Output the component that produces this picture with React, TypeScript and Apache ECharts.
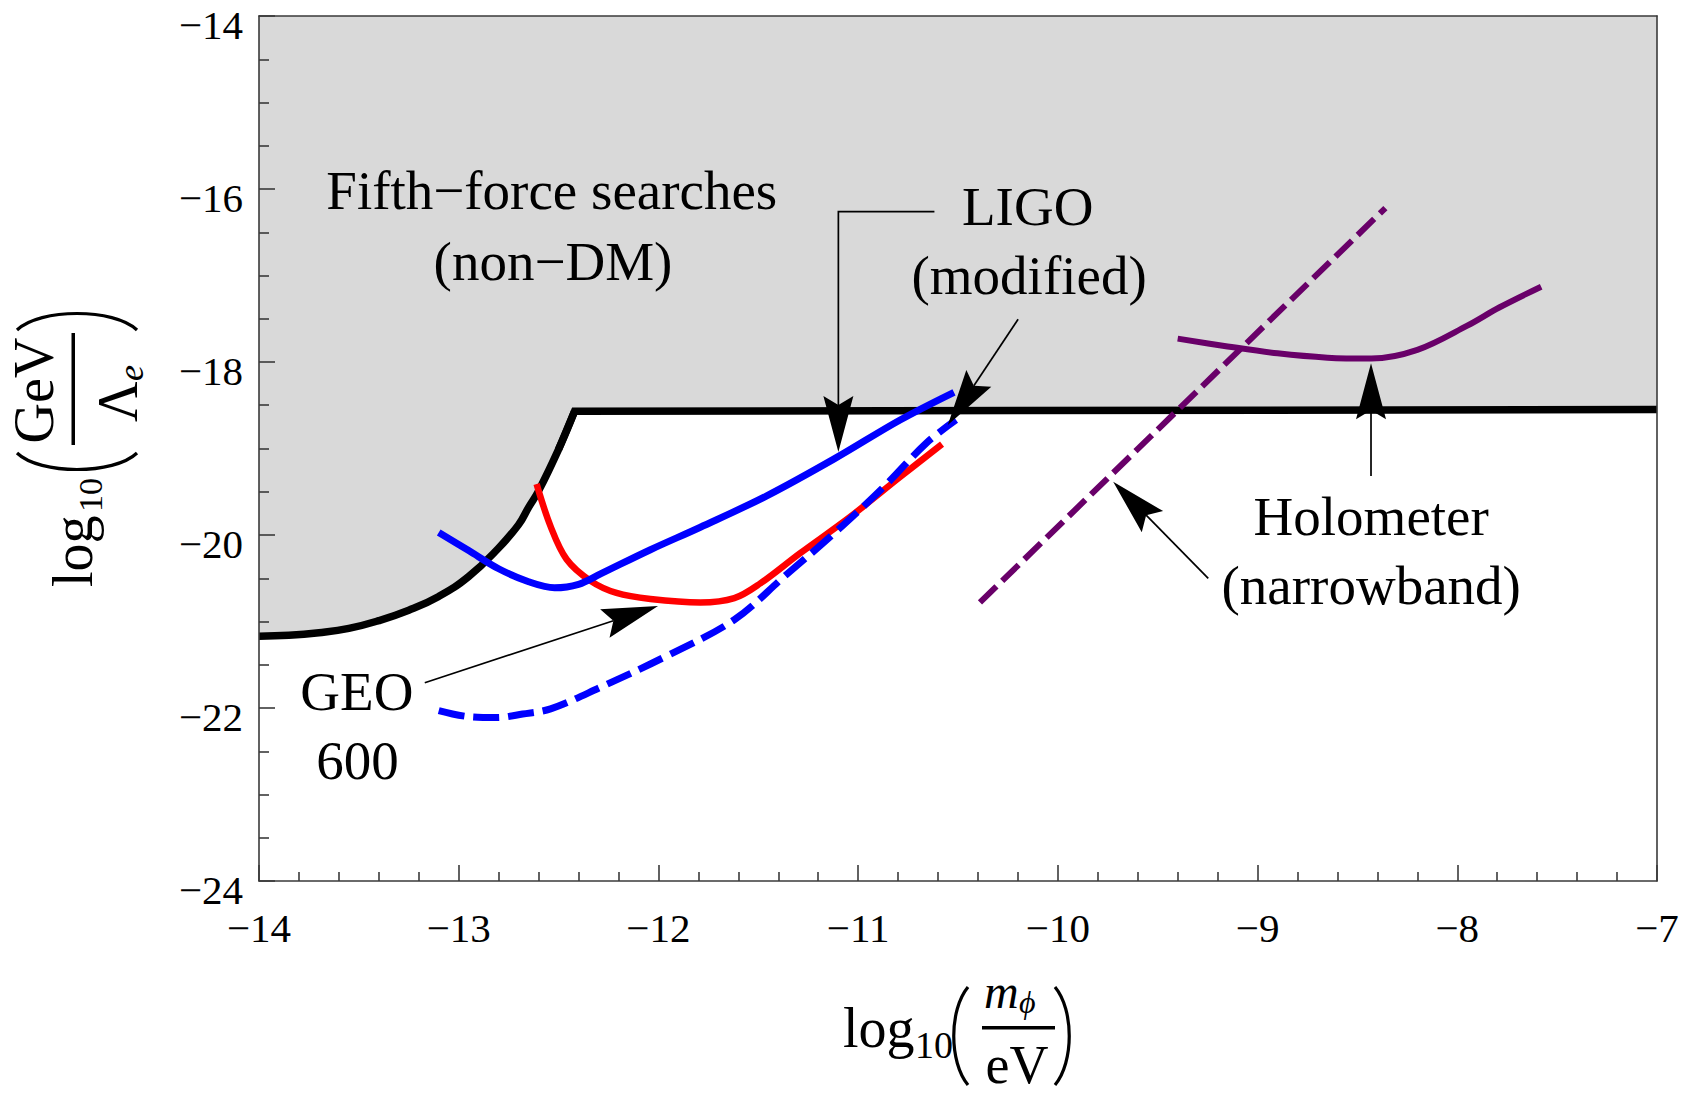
import { useEffect, useRef } from "react";
import * as echarts from "echarts";

const FONT = "'Liberation Serif', 'Times New Roman', Times, serif";

// ---- axes ----
const xTicks = [-14, -13, -12, -11, -10, -9, -8, -7];
const xTickLabels = ["\u221214", "\u221213", "\u221212", "\u221211", "\u221210", "\u22129", "\u22128", "\u22127"];
const yTicks = [-24, -22, -20, -18, -16, -14];
const yTickLabels = ["\u221224", "\u221222", "\u221220", "\u221218", "\u221216", "\u221214"];

// ---- curves ----
// Fifth-force searches (non-DM) boundary; region above is excluded (grey)
const fifthX = [-14, -13.85, -13.7, -13.55, -13.4, -13.25, -13.1, -12.95, -12.8, -12.7, -12.65, -12.6, -12.5, -12.42, -7];
const fifthY = [-21.17, -21.16, -21.13, -21.08, -20.99, -20.87, -20.71, -20.48, -20.15, -19.88, -19.68, -19.49, -19.01, -18.57, -18.55];

// LIGO (modified) – solid blue
const ligoSolidX = [-13.1, -12.95, -12.8, -12.65, -12.52, -12.4, -12.29, -12.04, -11.79, -11.46, -11.12, -10.79, -10.52];
const ligoSolidY = [-19.97, -20.18, -20.39, -20.54, -20.61, -20.57, -20.45, -20.17, -19.91, -19.55, -19.12, -18.67, -18.35];

// LIGO (modified) – dashed blue
const ligoDashX = [-13.1, -12.95, -12.81, -12.68, -12.54, -12.29, -11.96, -11.62, -11.37, -11.12, -10.87, -10.66, -10.51];
const ligoDashY = [-22.03, -22.1, -22.11, -22.07, -22.01, -21.76, -21.4, -20.98, -20.48, -19.98, -19.44, -18.94, -18.67];

// GEO 600 – red
const geoX = [-12.61, -12.54, -12.46, -12.34, -12.21, -12.04, -11.79, -11.62, -11.49, -11.29, -11.04, -10.79, -10.58];
const geoY = [-19.41, -19.9, -20.28, -20.53, -20.67, -20.74, -20.78, -20.73, -20.56, -20.21, -19.79, -19.33, -18.95];

// Holometer (narrowband) – dashed purple
const holoDashX = [-10.39, -8.36];
const holoDashY = [-20.78, -16.22];

// Holometer (narrowband) – solid purple
const holoSolidX = [-9.4, -9.15, -8.9, -8.65, -8.43, -8.2, -7.95, -7.79, -7.58];
const holoSolidY = [-17.73, -17.82, -17.9, -17.95, -17.96, -17.86, -17.58, -17.37, -17.13];

// ---- annotations (data coordinates, y = text baseline) ----
const noteText = ["Fifth\u2212force searches", "(non\u2212DM)", "LIGO", "(modified)", "GEO", "600", "Holometer", "(narrowband)"];
const noteX = [-12.534, -12.528, -10.151, -10.144, -13.51, -13.507, -8.431, -8.431];
const noteY = [-16.266, -17.087, -16.454, -17.245, -22.055, -22.853, -20.038, -20.829];

// arrows: list of points, last = tip
const arrowLigoSolid = [[-10.618, -16.262], [-11.099, -16.262], [-11.099, -19.04]];
const arrowLigoDash = [[-10.199, -17.506], [-10.551, -18.728]];
const arrowGeo = [[-13.17, -21.708], [-12.002, -20.821]];
const arrowHoloDash = [[-9.247, -20.501], [-9.723, -19.384]];
const arrowHoloSolid = [[-8.432, -19.318], [-8.432, -18.015]];

const BLUE = "#0000ff";
const RED = "#ff0000";
const PURPLE = "#690069";
const AXIS = "#3a3a3a";

const pair = (xs: number[], ys: number[]) => xs.map((x, i) => [x, ys[i]]);

function txt(
  text: string,
  x: number,
  y: number,
  size: number,
  opts: { align?: string; italic?: boolean; rotation?: number } = {}
) {
  const align = opts.align || "left";
  return {
    type: "text",
    x,
    y,
    rotation: opts.rotation || 0,
    z: 100,
    silent: true,
    style: {
      text,
      fontFamily: FONT,
      fontSize: size,
      fontStyle: opts.italic ? "italic" : "normal",
      fill: "#000",
      align,
      textAlign: align,
      verticalAlign: "middle",
      textVerticalAlign: "middle",
    },
  };
}

// baseline -> middle offset for Liberation Serif
const mid = (baseline: number, size: number) => baseline - 0.3375 * size;

function bez(x1: number, y1: number, x2: number, y2: number, c1x: number, c1y: number, c2x: number, c2y: number) {
  return {
    type: "bezierCurve",
    z: 100,
    silent: true,
    shape: { x1, y1, x2, y2, cpx1: c1x, cpy1: c1y, cpx2: c2x, cpy2: c2y },
    style: { stroke: "#000", lineWidth: 3.2, fill: null },
  };
}

function rect(x: number, y: number, w: number, h: number) {
  return { type: "rect", z: 100, silent: true, shape: { x, y, width: w, height: h }, style: { fill: "#000" } };
}

function axisTitles() {
  const R = Math.PI / 2;
  const els: any[] = [];
  // x-axis title: log10( m_phi / eV )
  els.push(txt("log", 843, mid(1046.5, 56), 56));
  els.push(txt("10", 915, mid(1058, 38), 38));
  els.push(bez(968, 987, 968, 1085, 949, 1010, 949, 1062));
  els.push(txt("m", 984, mid(1008, 48), 48, { italic: true }));
  els.push(txt("\u03d5", 1019, mid(1013, 32), 32, { italic: true }));
  els.push(rect(982, 1026, 73, 3.5));
  els.push(txt("eV", 1017, mid(1083, 54), 54, { align: "center" }));
  els.push(bez(1055, 987, 1055, 1085, 1074, 1010, 1074, 1062));

  // y-axis title: log10( GeV / Lambda_e ), rotated
  els.push(txt("log", 92 - 0.3375 * 56, 587, 56, { rotation: R }));
  els.push(txt("10", 101.7 - 0.3375 * 34, 512, 34, { rotation: R }));
  els.push(bez(17, 453, 137, 453, 40, 475, 114, 475));
  els.push(txt("GeV", 53.3 - 0.3375 * 56, 390.5, 56, { rotation: R, align: "center" }));
  els.push(rect(71.5, 333, 3.5, 112));
  els.push(txt("\u039b", 137 - 0.3375 * 56, 422, 56, { rotation: R }));
  els.push(txt("e", 143 - 0.3375 * 36, 381, 36, { rotation: R, italic: true }));
  els.push(bez(17, 330, 137, 330, 40, 308, 114, 308));
  return els;
}

export default function App() {
  const ref = useRef<HTMLDivElement>(null);

  useEffect(() => {
    document.body.style.margin = "0";
    const el = ref.current!;
    const chart = echarts.init(el, null, { renderer: "svg" });

    const tickLine = { color: AXIS, width: 1.6 };
    const xFmt = (v: number) => {
      const i = xTicks.findIndex((t) => Math.abs(t - v) < 1e-6);
      return i >= 0 ? xTickLabels[i] : "";
    };
    const yFmt = (v: number) => {
      const i = yTicks.findIndex((t) => Math.abs(t - v) < 1e-6);
      return i >= 0 ? yTickLabels[i] : "";
    };

    const lineSeries = (
      name: string,
      xs: number[],
      ys: number[],
      color: string,
      width: number,
      dash: any,
      z: number,
      smooth: number | boolean
    ) => ({
      type: "line",
      name,
      data: pair(xs, ys),
      symbol: "none",
      showSymbol: false,
      smooth,
      z,
      lineStyle: { color, width, type: dash, cap: "butt", join: "round" },
    });

    const fifthAll = pair(fifthX, fifthY);
    const n = fifthAll.length;

    const option: any = {
      animation: false,
      backgroundColor: "#ffffff",
      grid: { left: 259, top: 16, width: 1398, height: 865, containLabel: false },
      xAxis: [
        {
          type: "value",
          min: -14,
          max: -7,
          interval: 1,
          position: "bottom",
          z: 10,
          axisLine: { show: true, onZero: false, lineStyle: tickLine },
          axisTick: { show: true, inside: true, length: 16, lineStyle: tickLine },
          minorTick: { show: true, splitNumber: 5, length: 9, lineStyle: tickLine },
          splitLine: { show: false },
          minorSplitLine: { show: false },
          axisLabel: {
            margin: 26,
            fontFamily: FONT,
            fontSize: 41,
            color: "#000",
            formatter: xFmt,
            showMinLabel: true,
            showMaxLabel: true,
          },
        },
        {
          type: "value",
          min: -14,
          max: -7,
          position: "top",
          z: 10,
          axisLine: { show: true, onZero: false, lineStyle: tickLine },
          axisTick: { show: false },
          axisLabel: { show: false },
          splitLine: { show: false },
        },
      ],
      yAxis: [
        {
          type: "value",
          min: -24,
          max: -14,
          interval: 2,
          position: "left",
          z: 10,
          axisLine: { show: true, onZero: false, lineStyle: tickLine },
          axisTick: { show: true, inside: true, length: 16, lineStyle: tickLine },
          minorTick: { show: true, splitNumber: 4, length: 10, lineStyle: tickLine },
          splitLine: { show: false },
          minorSplitLine: { show: false },
          axisLabel: {
            margin: 16,
            fontFamily: FONT,
            fontSize: 41,
            color: "#000",
            formatter: yFmt,
            verticalAlign: "top",
            lineHeight: 18,
            showMinLabel: true,
            showMaxLabel: true,
          },
        },
        {
          type: "value",
          min: -24,
          max: -14,
          position: "right",
          z: 10,
          axisLine: { show: true, onZero: false, lineStyle: tickLine },
          axisTick: { show: false },
          axisLabel: { show: false },
          splitLine: { show: false },
        },
      ],
      series: [
        {
          // grey excluded region (fill only)
          type: "line",
          name: "Fifth-force region",
          data: fifthAll,
          symbol: "none",
          showSymbol: false,
          smooth: false,
          z: 1,
          lineStyle: { width: 0, opacity: 0 },
          areaStyle: { color: "#d9d9d9", opacity: 1, origin: "end" },
        },
        {
          // curved part of the boundary
          type: "line",
          name: "Fifth-force searches (non-DM)",
          data: fifthAll.slice(0, n - 1),
          symbol: "none",
          showSymbol: false,
          smooth: 0.45,
          z: 2,
          lineStyle: { color: "#000", width: 7.5, cap: "butt", join: "round" },
        },
        {
          // sharp corner and flat part of the boundary
          type: "line",
          name: "Fifth-force plateau",
          data: fifthAll.slice(n - 3),
          symbol: "none",
          showSymbol: false,
          smooth: false,
          z: 2,
          lineStyle: { color: "#000", width: 7.5, cap: "butt", join: "miter" },
        },
        lineSeries("GEO 600", geoX, geoY, RED, 6.5, "solid", 3, 0.35),
        lineSeries("LIGO (modified) solid", ligoSolidX, ligoSolidY, BLUE, 7, "solid", 4, 0.35),
        lineSeries("LIGO (modified) dashed", ligoDashX, ligoDashY, BLUE, 7, [26, 9], 4, 0.35),
        lineSeries("Holometer solid", holoSolidX, holoSolidY, PURPLE, 6, "solid", 4, 0.35),
        lineSeries("Holometer dashed", holoDashX, holoDashY, PURPLE, 6, [23, 8], 5, false),
      ],
    };

    chart.setOption(option);

    const toPx = (p: number[]) => chart.convertToPixel({ gridIndex: 0 } as any, p) as unknown as number[];

    const arrowEls = (pts: number[][]) => {
      const px = pts.map(toPx);
      const tip = px[px.length - 1];
      const prev = px[px.length - 2];
      const dx = tip[0] - prev[0];
      const dy = tip[1] - prev[1];
      const L = Math.hypot(dx, dy);
      const ux = dx / L;
      const uy = dy / L;
      const nx = -uy;
      const ny = ux;
      const len = 56;
      const hw = 15;
      const notch = 9;
      const bx = tip[0] - ux * len;
      const by = tip[1] - uy * len;
      const c1 = [bx + nx * hw, by + ny * hw];
      const c2 = [bx - nx * hw, by - ny * hw];
      const nn = [tip[0] - ux * (len - notch), tip[1] - uy * (len - notch)];
      const shaft = px.slice(0, -1).concat([nn]);
      return [
        {
          type: "polyline",
          z: 100,
          silent: true,
          shape: { points: shaft },
          style: { stroke: "#000", lineWidth: 1.7, fill: null },
        },
        {
          type: "polygon",
          z: 101,
          silent: true,
          shape: { points: [tip, c1, nn, c2] },
          style: { fill: "#000" },
        },
      ];
    };

    const NOTE_SIZE = 55;
    const noteEls = noteText.map((t, i) => {
      const p = toPx([noteX[i], noteY[i]]);
      return txt(t, p[0], mid(p[1], NOTE_SIZE) - 3, NOTE_SIZE, { align: "center" });
    });

    const graphic = [
      ...axisTitles(),
      ...noteEls,
      ...arrowEls(arrowLigoSolid),
      ...arrowEls(arrowLigoDash),
      ...arrowEls(arrowGeo),
      ...arrowEls(arrowHoloDash),
      ...arrowEls(arrowHoloSolid),
    ];

    chart.setOption({ graphic });

    return () => {
      chart.dispose();
    };
  }, []);

  return (
    <div
      ref={ref}
      style={{ position: "absolute", left: 0, top: 0, width: 1694, height: 1094, background: "#fff" }}
    />
  );
}
